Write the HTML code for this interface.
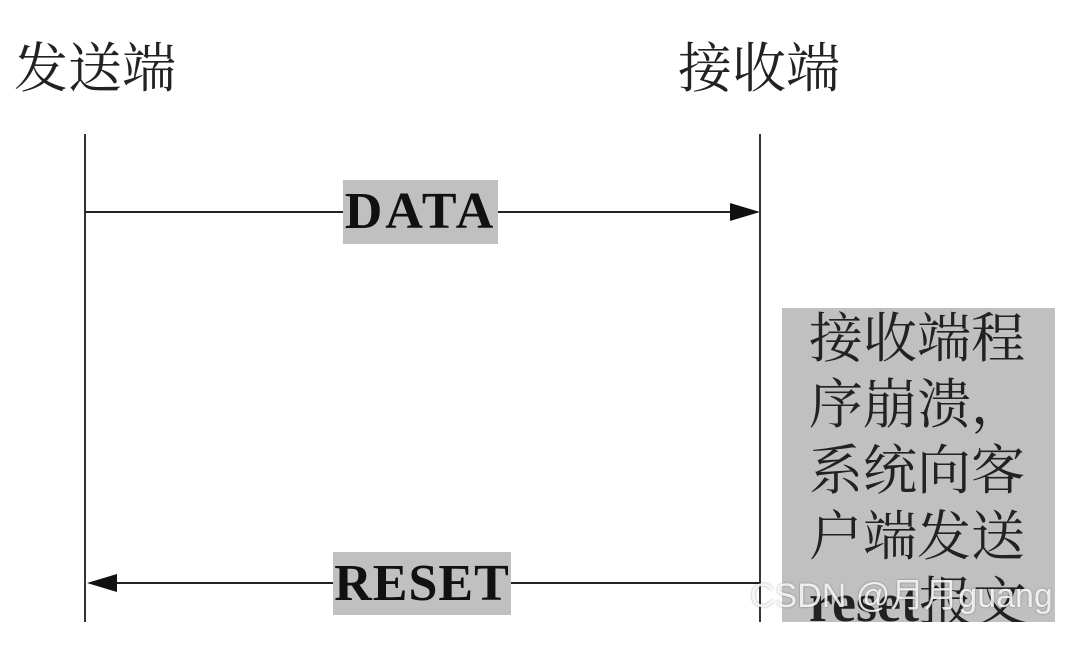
<!DOCTYPE html>
<html><head><meta charset="utf-8"><style>
html,body{margin:0;padding:0;background:#fff;}
body{width:1077px;height:652px;position:relative;overflow:hidden;font-family:"Liberation Serif","Noto Serif CJK SC",serif;}
.t{position:absolute;font-size:54px;line-height:54px;color:#222;font-family:"Liberation Serif","Noto Serif CJK SC","Noto Sans CJK SC",serif;}
.lbl{position:absolute;background:#c0c0c0;font-weight:bold;font-size:52px;color:#111;text-align:center;font-family:"Liberation Serif",serif;}
</style></head><body>
<div class="t" style="left:14px;top:42px;">发送端</div>
<div class="t" style="left:678px;top:42px;">接收端</div>
<svg width="1077" height="652" style="position:absolute;left:0;top:0">
<line x1="85" y1="134" x2="85" y2="622" stroke="#333" stroke-width="2"/>
<line x1="760" y1="134" x2="760" y2="622" stroke="#333" stroke-width="2"/>
<line x1="85" y1="212" x2="735" y2="212" stroke="#222" stroke-width="2"/>
<polygon points="760,212 730,203 730,221" fill="#111"/>
<line x1="115" y1="583" x2="760" y2="583" stroke="#222" stroke-width="2"/>
<polygon points="87,583 117,574 117,592" fill="#111"/>
<rect x="782" y="308" width="273" height="314" fill="#c0c0c0"/>
</svg>
<div class="lbl" style="left:343px;top:180px;width:155px;height:64px;line-height:64px;letter-spacing:3px;">DATA</div>
<div class="lbl" style="left:333px;top:552px;width:178px;height:63px;line-height:63px;letter-spacing:1px;">RESET</div>
<div class="t" style="left:809px;top:306px;line-height:66px;width:230px;">接收端程<br>序崩溃，<br>系统向客<br>户端发送<br><b style="font-family:'Liberation Serif',serif">reset</b>报文</div>
<div style="position:absolute;left:750px;top:568px;font-family:'Liberation Sans',sans-serif;font-size:34px;color:rgba(255,255,255,0.85);text-shadow:0 0 2px rgba(0,0,0,0.35);">CSDN @月月guang</div>
<div style="position:absolute;left:0;top:622px;width:1077px;height:30px;background:#fff"></div>
</body></html>
